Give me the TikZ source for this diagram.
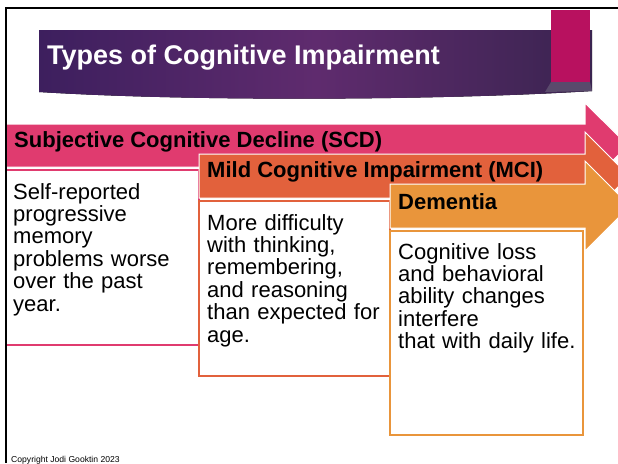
\documentclass[tikz,border=0pt]{standalone}
\usepackage{fontspec}
\setmainfont{Liberation Sans}
\definecolor{scdC}{HTML}{E03B6F}
\definecolor{mciC}{HTML}{E2613C}
\definecolor{demC}{HTML}{E9953B}
\definecolor{tabC}{HTML}{B8115F}
\definecolor{banL}{HTML}{3D1F5E}
\definecolor{banM}{HTML}{5F2B6E}
\definecolor{banR}{HTML}{3A2450}
\definecolor{bevC}{HTML}{5A4A6C}
\begin{document}
\begin{tikzpicture}[x=1pt,y=-1pt,
  arrowshape/.style={draw=white, line width=1pt},
  boxshape/.style={fill=white, line width=1.2pt},
  lbl/.style={font=\bfseries\fontsize{22}{26}\selectfont, anchor=base west, inner sep=0pt, text=black},
  bodytxt/.style={font=\fontsize{22}{22.4}\selectfont, anchor=base west, inner sep=0pt, text width=182pt, align=left, text=black}]
\useasboundingbox (0,0) rectangle (618,463);
\fill[white] (0,0) rectangle (618,463);
% title banner
\fill[left color=banL, right color=banR, middle color=banM]
  (39,30) -- (592,30) -- (592,91) .. controls (450,100) and (200,102) .. (39,92) -- cycle;
\fill[bevC] (551,82) -- (590,82) -- (592,91) -- (545,92) -- cycle;
\fill[tabC] (551,10) rectangle (590,82);
\node[font=\bfseries\fontsize{27}{32}\selectfont, text=white, anchor=base west, inner sep=0pt] (title) at (47,64) {Types of Cognitive Impairment};
% SCD
\fill[scdC, arrowshape] (6,124) -- (585,124) -- (585,103) -- (628,145.5) -- (585,188) -- (585,167) -- (6,167) -- cycle;
\draw[scdC, boxshape] (6,170) rectangle (199,345);
% MCI
\fill[mciC, arrowshape] (199,154) -- (585,154) -- (585,132) -- (629,176) -- (585,220) -- (585,198) -- (199,198) -- cycle;
\draw[mciC, boxshape] (199,201) rectangle (390,376);
% Dementia
\fill[demC, arrowshape] (390,184) -- (585,184) -- (585,161) -- (630,206) -- (585,251) -- (585,228) -- (390,228) -- cycle;
\draw[demC, boxshape] (390,231) rectangle (583,435);
% frame
\draw[line width=2.2pt, black] (618,8) -- (6,8) -- (6,463);
% labels
\node[lbl] (scdlbl) at (14,147) {Subjective Cognitive Decline (SCD)};
\node[lbl] (mcilbl) at (207,177) {Mild Cognitive Impairment (MCI)};
\node[lbl] (demlbl) at (398,209) {Dementia};
% bodies
\node[bodytxt] (scdtxt) at (13,199) {Self-reported\\progressive\\memory\\problems worse\\over the past\\year.};
\node[bodytxt] (mcitxt) at (207,230) {More difficulty\\with thinking,\\remembering,\\and reasoning\\than expected for\\age.};
\node[bodytxt] (demtxt) at (398,259) {Cognitive loss\\and behavioral\\ability changes\\interfere\\that with daily life.};
\node[font=\fontsize{8.6}{10}\selectfont, anchor=base west, inner sep=0pt] (copy) at (11,462.5) {Copyright Jodi Gooktin 2023};
\end{tikzpicture}
\end{document}
